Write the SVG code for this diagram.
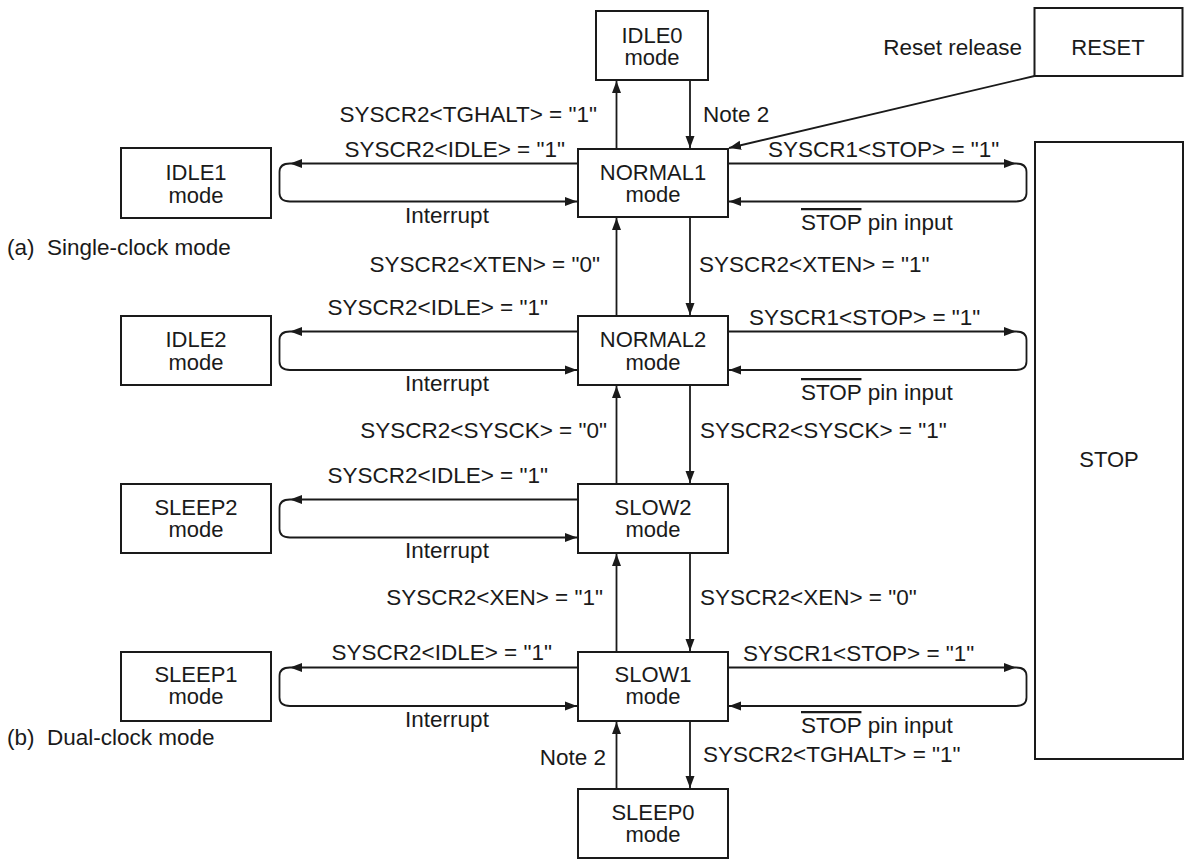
<svg xmlns="http://www.w3.org/2000/svg" width="1184" height="859" viewBox="0 0 1184 859">
<defs>
<style>
text{font-family:"Liberation Sans",Arial,sans-serif;fill:#1a1a1a}
.n{font-size:22px;text-anchor:middle}
.l{font-size:22.5px}
.e{text-anchor:end}
.m{text-anchor:middle}
.box{fill:#fff;stroke:#1a1a1a;stroke-width:2}
.c{fill:none;stroke:#1a1a1a;stroke-width:1.8}
.ov{text-decoration:overline}
</style>
<marker id="ah" markerUnits="userSpaceOnUse" markerWidth="12" markerHeight="10" refX="12" refY="5" orient="auto">
<path d="M0,0.5 L12,5 L0,9.5 z" fill="#1a1a1a"/>
</marker>
</defs>
<rect width="1184" height="859" fill="#fff"/>

<g id="connectors">
<path class="c" d="M616.5 149 V81" marker-end="url(#ah)"/>
<path class="c" d="M690 80 V148" marker-end="url(#ah)"/>
<path class="c" d="M690 217 V315" marker-end="url(#ah)"/>
<path class="c" d="M616.5 316 V218" marker-end="url(#ah)"/>
<path class="c" d="M690 385 V483" marker-end="url(#ah)"/>
<path class="c" d="M616.5 484 V386" marker-end="url(#ah)"/>
<path class="c" d="M690 553 V651" marker-end="url(#ah)"/>
<path class="c" d="M616.5 652 V554" marker-end="url(#ah)"/>
<path class="c" d="M690 721 V788" marker-end="url(#ah)"/>
<path class="c" d="M616.5 789 V722" marker-end="url(#ah)"/>
<path class="c" d="M1034.5 76 L729 148" marker-end="url(#ah)"/>
<path class="c" d="M578 163.5 H290" marker-end="url(#ah)"/>
<path class="c" d="M290 163.5 Q279.5 163.5 279.5 172 V193 Q279.5 201.5 290 201.5 H577" marker-end="url(#ah)"/>
<path class="c" d="M578 331.5 H290" marker-end="url(#ah)"/>
<path class="c" d="M290 331.5 Q279.5 331.5 279.5 340 V361.5 Q279.5 370 290 370 H577" marker-end="url(#ah)"/>
<path class="c" d="M578 499.5 H290" marker-end="url(#ah)"/>
<path class="c" d="M290 499.5 Q279.5 499.5 279.5 508 V529 Q279.5 537.5 290 537.5 H577" marker-end="url(#ah)"/>
<path class="c" d="M578 667.5 H290" marker-end="url(#ah)"/>
<path class="c" d="M290 667.5 Q279.5 667.5 279.5 676 V697.5 Q279.5 706 290 706 H577" marker-end="url(#ah)"/>
<path class="c" d="M728 163.5 H1016" marker-end="url(#ah)"/>
<path class="c" d="M1016 163.5 Q1026.5 163.5 1026.5 172 V193 Q1026.5 201.5 1016 201.5 H729" marker-end="url(#ah)"/>
<path class="c" d="M728 331.5 H1016" marker-end="url(#ah)"/>
<path class="c" d="M1016 331.5 Q1026.5 331.5 1026.5 340 V361.5 Q1026.5 370 1016 370 H729" marker-end="url(#ah)"/>
<path class="c" d="M728 667.5 H1016" marker-end="url(#ah)"/>
<path class="c" d="M1016 667.5 Q1026.5 667.5 1026.5 676 V697.5 Q1026.5 706 1016 706 H729" marker-end="url(#ah)"/>
</g>

<g id="labels">
<text class="l e" x="597" y="122">SYSCR2&lt;TGHALT&gt; = "1"</text>
<text class="l" x="703" y="122">Note 2</text>
<text class="l e" x="1022" y="55">Reset release</text>
<text class="l e" x="565" y="157">SYSCR2&lt;IDLE&gt; = "1"</text>
<text class="l m" x="447" y="223">Interrupt</text>
<text class="l" x="768" y="157">SYSCR1&lt;STOP&gt; = "1"</text>
<text class="l" x="801" y="230"><tspan class="ov">STOP</tspan> pin input</text>
<text class="l" x="7" y="255">(a)&#160; Single-clock mode</text>
<text class="l e" x="600" y="272">SYSCR2&lt;XTEN&gt; = "0"</text>
<text class="l" x="699" y="272">SYSCR2&lt;XTEN&gt; = "1"</text>

<text class="l e" x="548" y="315">SYSCR2&lt;IDLE&gt; = "1"</text>
<text class="l m" x="447" y="391">Interrupt</text>
<text class="l" x="749" y="325">SYSCR1&lt;STOP&gt; = "1"</text>
<text class="l" x="801" y="400"><tspan class="ov">STOP</tspan> pin input</text>
<text class="l e" x="607" y="438">SYSCR2&lt;SYSCK&gt; = "0"</text>
<text class="l" x="700" y="438">SYSCR2&lt;SYSCK&gt; = "1"</text>

<text class="l e" x="548" y="483">SYSCR2&lt;IDLE&gt; = "1"</text>
<text class="l m" x="447" y="558">Interrupt</text>
<text class="l e" x="603" y="605">SYSCR2&lt;XEN&gt; = "1"</text>
<text class="l" x="700" y="605">SYSCR2&lt;XEN&gt; = "0"</text>

<text class="l e" x="552" y="660">SYSCR2&lt;IDLE&gt; = "1"</text>
<text class="l m" x="447" y="727">Interrupt</text>
<text class="l" x="743" y="661">SYSCR1&lt;STOP&gt; = "1"</text>
<text class="l" x="801" y="733"><tspan class="ov">STOP</tspan> pin input</text>
<text class="l" x="7" y="745">(b)&#160; Dual-clock mode</text>
<text class="l e" x="606" y="765">Note 2</text>
<text class="l" x="703" y="762">SYSCR2&lt;TGHALT&gt; = "1"</text>
</g>

<g id="IDLE0"><rect class="box" x="596" y="11" width="112" height="69"/><text class="n" x="652" y="43">IDLE0<tspan x="652" dy="21.5">mode</tspan></text></g>
<g id="RESET"><rect class="box" x="1034.5" y="8" width="148" height="68"/><text class="n" x="1108" y="55">RESET</text></g>
<g id="STOP"><rect class="box" x="1035" y="142" width="148" height="617"/><text class="n" x="1109" y="467">STOP</text></g>

<g id="NORMAL1"><rect class="box" x="578" y="149" width="150" height="68"/><text class="n" x="653" y="180">NORMAL1<tspan x="653" dy="22">mode</tspan></text></g>
<g id="NORMAL2"><rect class="box" x="578" y="316" width="150" height="69"/><text class="n" x="653" y="347">NORMAL2<tspan x="653" dy="22.5">mode</tspan></text></g>
<g id="SLOW2"><rect class="box" x="578" y="484" width="150" height="69"/><text class="n" x="653" y="515">SLOW2<tspan x="653" dy="22">mode</tspan></text></g>
<g id="SLOW1"><rect class="box" x="578" y="652" width="150" height="69"/><text class="n" x="653" y="682">SLOW1<tspan x="653" dy="22">mode</tspan></text></g>
<g id="SLEEP0"><rect class="box" x="578" y="789" width="150" height="69"/><text class="n" x="653" y="820">SLEEP0<tspan x="653" dy="22">mode</tspan></text></g>

<g id="IDLE1"><rect class="box" x="121" y="148" width="150" height="70"/><text class="n" x="196" y="180">IDLE1<tspan x="196" dy="23">mode</tspan></text></g>
<g id="IDLE2"><rect class="box" x="121" y="316" width="150" height="69"/><text class="n" x="196" y="347">IDLE2<tspan x="196" dy="22.5">mode</tspan></text></g>
<g id="SLEEP2"><rect class="box" x="121" y="484" width="150" height="69"/><text class="n" x="196" y="515">SLEEP2<tspan x="196" dy="22">mode</tspan></text></g>
<g id="SLEEP1"><rect class="box" x="121" y="652" width="150" height="69"/><text class="n" x="196" y="682">SLEEP1<tspan x="196" dy="22">mode</tspan></text></g>
</svg>
